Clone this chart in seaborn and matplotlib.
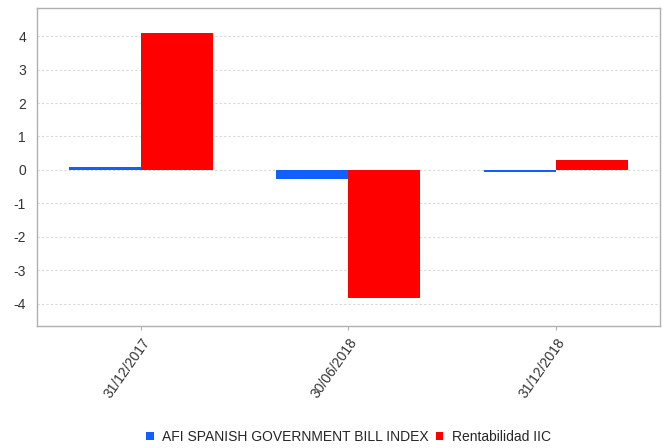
import pandas as pd
import seaborn as sns
import matplotlib.pyplot as plt

fechas = ['31/12/2017', '30/06/2018', '31/12/2018']
indice = [0.10, -0.27, -0.05]
rentabilidad = [4.10, -3.82, 0.30]
series = ['AFI SPANISH GOVERNMENT BILL INDEX', 'Rentabilidad IIC']

df = pd.DataFrame({
    'fecha': fechas * 2,
    'valor': indice + rentabilidad,
    'serie': [series[0]] * 3 + [series[1]] * 3,
})

sns.set_style('white')
plt.rcParams['font.family'] = ['Liberation Sans', 'DejaVu Sans']
plt.rcParams['axes.unicode_minus'] = False

fig = plt.figure(figsize=(6.63, 4.48), dpi=100)
ax = fig.add_axes([0.056, 0.273, 0.939, 0.709])

sns.barplot(data=df, x='fecha', y='valor', hue='serie',
            palette=['#1060ff', '#ff0000'], width=0.694, gap=0,
            saturation=1, ax=ax, legend=True)
for p in ax.patches:
    p.set_edgecolor('none')

ax.set_xlim(-0.5, 2.5)
ax.set_ylim(-4.66, 4.84)
ax.set_yticks(range(-4, 5))
ax.set_xlabel('')
ax.set_ylabel('')
ax.yaxis.grid(True, linestyle=(0, (2, 2)), color='#d8d8d8', linewidth=0.8)
ax.set_axisbelow(True)
for s in ax.spines.values():
    s.set_color('#b0b0b0')
    s.set_linewidth(1)

ax.tick_params(axis='y', length=0, labelsize=10, labelcolor='#333333', pad=8)
ax.tick_params(axis='x', length=3, color='#b0b0b0', labelsize=10,
               labelcolor='#333333', bottom=True, pad=4)
plt.setp(ax.get_xticklabels(), rotation=55, ha='right', rotation_mode='anchor')

ax.legend(loc='center', bbox_to_anchor=(0.5, -0.35), ncol=2,
          frameon=False, fontsize=10, handlelength=0.55, handleheight=0.55,
          handletextpad=0.6, columnspacing=0.5, borderaxespad=0)

fig.savefig('out.png', dpi=100)
